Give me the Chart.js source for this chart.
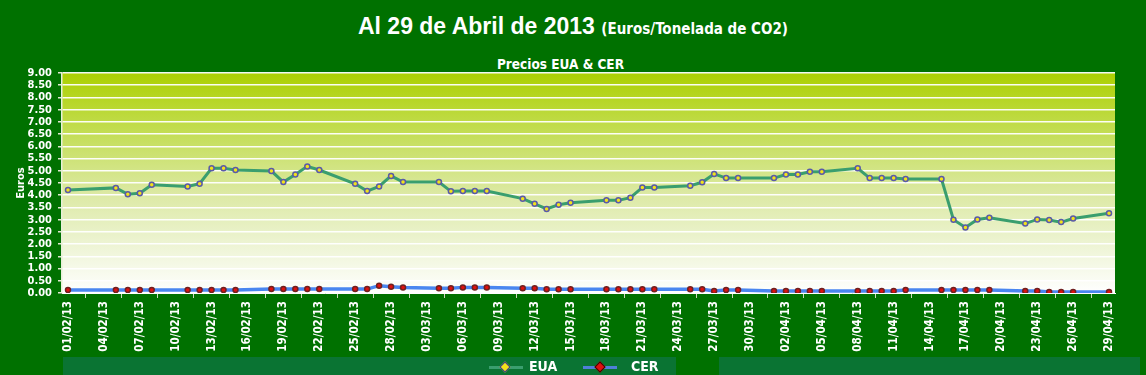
<!DOCTYPE html>
<html>
<head>
<meta charset="utf-8">
<script src="https://cdn.jsdelivr.net/npm/chart.js@4"></script>
<style>
  body { margin:0; background:#007100; width:1146px; height:375px; overflow:hidden; position:relative;
         font-family:"Liberation Sans", Arial, sans-serif; color:#fff; }
  .narrow { font-family:"DejaVu Sans Condensed", "Liberation Sans Narrow", sans-serif; font-weight:bold; }
  #titulo { position:absolute; left:0; top:13px; width:1146px; text-align:center; font-weight:bold; font-size:23px; line-height:26px; }
  #titulo span { font-size:15px; }
  #sub { position:absolute; left:0; top:56px; width:1121px; text-align:center; font-size:13.5px; }
  .tira { position:absolute; top:357px; height:18px; background:#0a7433; }
  .linea { position:absolute; top:366px; height:3px; width:34px; }
  .rombo { position:absolute; top:363px; width:6px; height:6px; transform:rotate(45deg); border:1px solid #333; }
  .txt { position:absolute; top:357px; font-size:14px; line-height:18px; }
  canvas { position:absolute; left:0; top:0; }
</style>
</head>
<body>
<div class="tira" style="left:63px;width:613px"></div>
<div class="tira" style="left:719px;width:421px"></div>
<div id="titulo">Al 29 de Abril de 2013 <span class="narrow">(Euros/Tonelada de CO2)</span></div>
<div id="sub" class="narrow">Precios EUA &amp; CER</div>
<canvas id="chart" width="1146" height="375"></canvas>
<div class="linea" style="left:489px;background:#3a9e6e"></div>
<div class="rombo" style="left:501px;background:#f2e21a;border-color:#3a3a8a"></div>
<div class="txt narrow" style="left:529px">EUA</div>
<div class="linea" style="left:583px;background:#4f7fd8"></div>
<div class="rombo" style="left:596px;background:#e01010;border-color:#400"></div>
<div class="txt narrow" style="left:631px">CER</div>
<script>
'use strict';
// data
var fechas = ['01/02/13','05/02/13','06/02/13','07/02/13','08/02/13','11/02/13','12/02/13','13/02/13','14/02/13','15/02/13',
  '18/02/13','19/02/13','20/02/13','21/02/13','22/02/13','25/02/13','26/02/13','27/02/13','28/02/13',
  '01/03/13','04/03/13','05/03/13','06/03/13','07/03/13','08/03/13','11/03/13','12/03/13','13/03/13','14/03/13','15/03/13',
  '18/03/13','19/03/13','20/03/13','21/03/13','22/03/13','25/03/13','26/03/13','27/03/13','28/03/13','29/03/13',
  '01/04/13','02/04/13','03/04/13','04/04/13','05/04/13','08/04/13','09/04/13','10/04/13','11/04/13','12/04/13',
  '15/04/13','16/04/13','17/04/13','18/04/13','19/04/13','22/04/13','23/04/13','24/04/13','25/04/13','26/04/13','29/04/13'];
var eua = [4.21,4.30,4.04,4.08,4.43,4.36,4.47,5.10,5.10,5.03,
  4.99,4.54,4.85,5.18,5.03,4.47,4.17,4.36,4.79,
  4.54,4.54,4.16,4.17,4.17,4.17,3.86,3.65,3.44,3.61,3.69,
  3.79,3.79,3.90,4.32,4.32,4.39,4.53,4.87,4.70,4.70,
  4.70,4.85,4.85,4.96,4.96,5.10,4.70,4.70,4.70,4.66,
  4.66,3.00,2.68,3.01,3.08,2.84,3.01,2.99,2.90,3.05,3.26];
var cer = [0.12,0.12,0.12,0.12,0.12,0.12,0.12,0.12,0.12,0.12,
  0.16,0.16,0.16,0.16,0.16,0.16,0.16,0.30,0.26,
  0.23,0.19,0.19,0.23,0.23,0.23,0.19,0.19,0.15,0.15,0.15,
  0.15,0.15,0.15,0.15,0.15,0.15,0.15,0.08,0.12,0.12,
  0.08,0.08,0.08,0.08,0.08,0.08,0.08,0.08,0.08,0.12,
  0.12,0.12,0.12,0.12,0.12,0.08,0.08,0.04,0.04,0.04,0.04];
var meses = [['02',28],['03',31],['04',29]];
var yMin = 0, yMax = 9, yPaso = 0.5;

// every calendar day is a category
var dias = [];
for (var m = 0; m < meses.length; m++) {
  for (var d = 1; d <= meses[m][1]; d++) {
    dias.push((d < 10 ? '0' + d : '' + d) + '/' + meses[m][0] + '/13');
  }
}
function puntos(valores) {
  var out = [];
  for (var i = 0; i < fechas.length; i++) out.push({x: fechas[i], y: valores[i]});
  return out;
}

var narrow = '"DejaVu Sans Condensed", "Liberation Sans Narrow", sans-serif';

var fondo = {
  id: 'fondo',
  beforeDraw: function(chart) {
    var a = chart.chartArea, ctx = chart.ctx;
    var g = ctx.createLinearGradient(0, a.top, 0, a.bottom);
    g.addColorStop(0, '#acd000');
    g.addColorStop(0.3, '#c6df5e');
    g.addColorStop(0.55, '#dce9a4');
    g.addColorStop(0.8, '#eff5d8');
    g.addColorStop(1, '#ffffff');
    ctx.save();
    ctx.fillStyle = g;
    ctx.fillRect(a.left, a.top, a.right - a.left, a.bottom - a.top);
    ctx.restore();
  }
};

new Chart(document.getElementById('chart').getContext('2d'), {
  type: 'line',
  data: {
    labels: dias,
    datasets: [{
      label: 'EUA',
      data: puntos(eua),
      borderColor: '#3a9e6e',
      borderWidth: 3,
      pointStyle: 'circle',
      pointRadius: 2.5,
      pointBorderWidth: 1.5,
      pointBackgroundColor: '#f2e21a',
      pointBorderColor: '#5a5aa8',
      tension: 0,
      spanGaps: true
    }, {
      label: 'CER',
      data: puntos(cer),
      borderColor: '#4a86f0',
      borderWidth: 3.5,
      pointStyle: 'circle',
      pointRadius: 2.5,
      pointBorderWidth: 1.5,
      pointBackgroundColor: '#e01010',
      pointBorderColor: '#702020',
      tension: 0,
      spanGaps: true
    }]
  },
  options: {
    responsive: false,
    animation: false,
    layout: { padding: { top: 73, right: 31, left: 0, bottom: 0 } },
    plugins: { legend: { display: false }, tooltip: { enabled: false } },
    scales: {
      x: {
        type: 'category',
        offset: true,
        afterFit: function(s) { s.height = 82; },
        grid: { offset: true, drawOnChartArea: false, color: '#cfd8c0', tickLength: 5 },
        border: { color: '#ffffff', width: 1 },
        ticks: {
          autoSkip: false, maxRotation: 90, minRotation: 90, padding: 3,
          color: '#ffffff',
          font: { family: narrow, size: 11.5, weight: 'bold' },
          callback: function(v, i) { return i % 3 === 0 ? dias[i] : null; }
        }
      },
      y: {
        min: yMin, max: yMax,
        afterFit: function(s) { s.width = 62; },
        grid: { color: 'rgba(255,255,255,0.95)', lineWidth: 1.5, tickLength: 4, tickColor: '#e0e8d0' },
        border: { color: '#e8f0d8', width: 1.5 },
        ticks: {
          autoSkip: false, stepSize: yPaso, padding: 6, color: '#ffffff',
          font: { family: narrow, size: 11, weight: 'bold' },
          callback: function(v) { return v.toFixed(2); }
        },
        title: {
          display: true, text: 'Euros', color: '#ffffff',
          font: { family: narrow, size: 11, weight: 'bold' },
          padding: { top: 15, bottom: 0 }
        }
      }
    }
  },
  plugins: [fondo]
});
</script>
</body>
</html>
